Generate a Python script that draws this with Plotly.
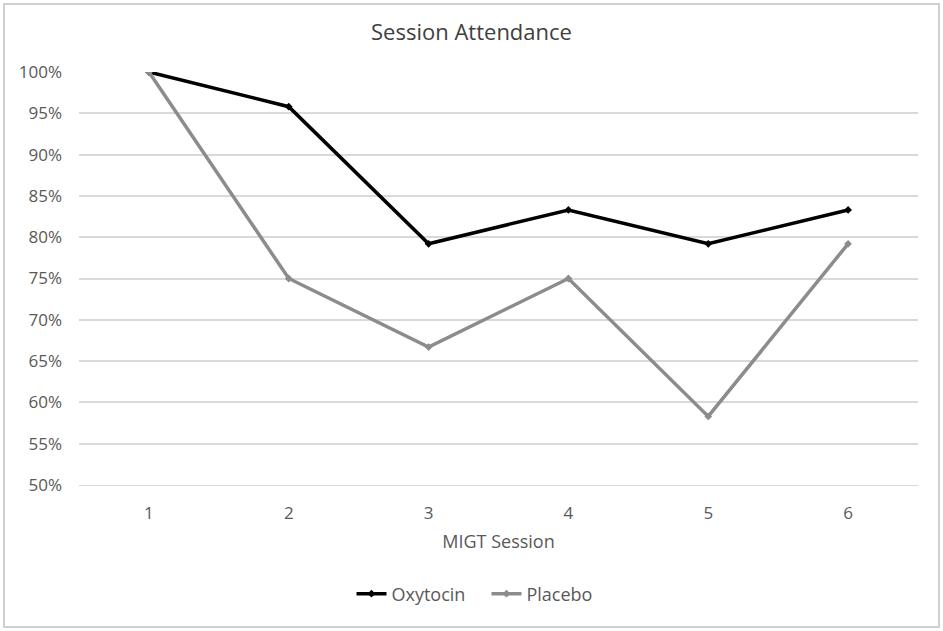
import plotly.graph_objects as go

sessions = ["1", "2", "3", "4", "5", "6"]
oxytocin = [1.000, 0.958, 0.792, 0.833, 0.792, 0.833]
placebo = [1.000, 0.750, 0.667, 0.750, 0.583, 0.792]

FONT = "Open Sans"
W, H = 943, 631
L, R, T, B = 79, 25, 72, 146
PW, PH = W - L - R, H - T - B

fig = go.Figure()
fig.add_trace(go.Scatter(x=sessions, y=oxytocin, name="Oxytocin", mode="lines+markers",
                         line=dict(color="#000000", width=3.5),
                         marker=dict(symbol="diamond", size=6, color="#000000")))
fig.add_trace(go.Scatter(x=sessions, y=placebo, name="Placebo", mode="lines+markers",
                         line=dict(color="#8c8c8c", width=3.5),
                         marker=dict(symbol="diamond", size=6, color="#8c8c8c")))

fig.update_layout(
    width=W, height=H,
    margin=dict(l=L, r=R, t=T, b=B),
    paper_bgcolor="white", plot_bgcolor="white",
    font=dict(family=FONT, size=17, color="#595959"),
    title=dict(text="Session Attendance", x=0.5, xref="container", xanchor="center",
               y=1 - 32 / H, yref="container", yanchor="middle",
               font=dict(family=FONT, size=22, color="#404040")),
    xaxis=dict(type="category", range=[-0.5, 5.5], showgrid=False, showline=True,
               linecolor="#d9d9d9", linewidth=1, ticks="", ticklabelstandoff=13,
               tickfont=dict(size=17, color="#595959"),
               title=dict(text="MIGT Session", font=dict(size=18, color="#595959"), standoff=11)),
    yaxis=dict(range=[0.5, 1.0], dtick=0.05, tickformat=".0%", showgrid=True, gridcolor="#d9d9d9",
               gridwidth=1.5, zeroline=False, showline=False, ticks="", ticklabelstandoff=16,
               tickfont=dict(size=17, color="#595959")),
    legend=dict(orientation="h", x=0.5 + 15 / W, xref="container", xanchor="center",
                y=1 - 594 / H, yref="container", yanchor="middle",
                font=dict(size=18, color="#595959"), entrywidth=90),
    shapes=[dict(type="rect", xref="paper", yref="paper",
                 x0=-(L - 4) / PW, x1=1 + (R - 4) / PW,
                 y0=-(B - 4) / PH, y1=1 + (T - 4) / PH,
                 line=dict(color="#d0d0d0", width=2))],
    showlegend=True,
)
fig.write_html("out.html", config={"displayModeBar": False},
               post_script="document.body.style.margin='0';document.body.style.overflow='hidden';")
